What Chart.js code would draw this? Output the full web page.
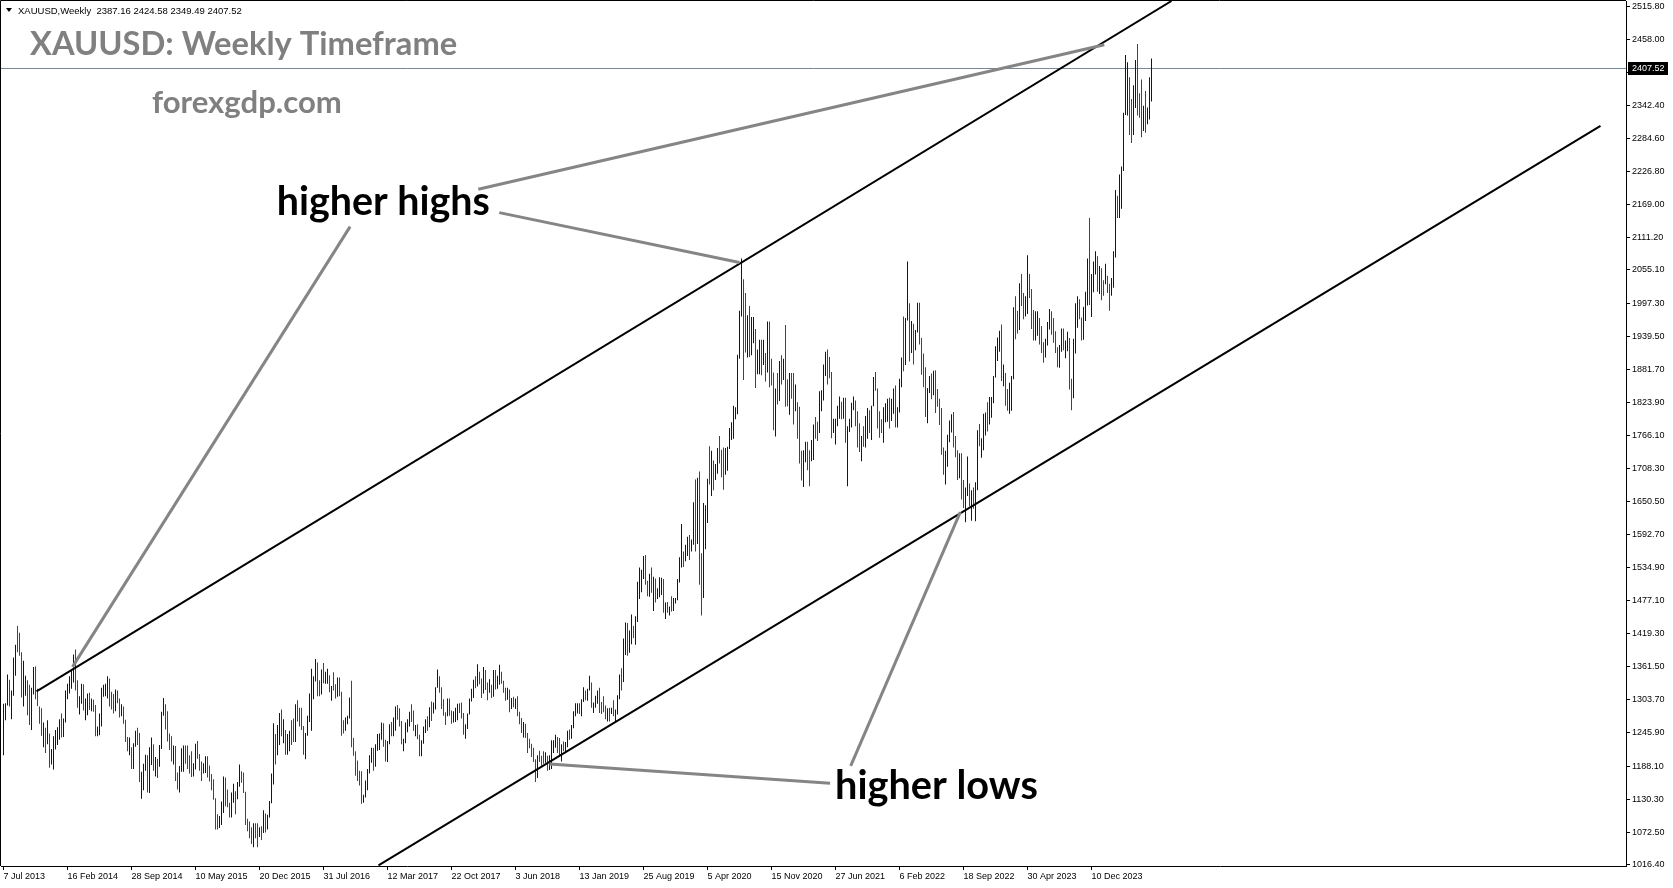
<!DOCTYPE html>
<html>
<head>
<meta charset="utf-8">
<title>XAUUSD Weekly</title>
<script src="https://cdn.jsdelivr.net/npm/chart.js@4.4.1/dist/chart.umd.min.js"></script>
<style>
html, body { margin: 0; padding: 0; background: #fff; }
#wrap { width: 1673px; height: 888px; position: relative; }
</style>
</head>
<body>
<div id="wrap"><canvas id="chart"></canvas></div>
<script>
// weekly bars, first one is the week of 7 Jul 2013, last one the week of 7 Jul 2024
const tickWeeks = [0, 32, 64, 96, 128, 160, 192, 224, 256, 288, 320, 352, 384, 416, 448, 480, 512, 544];
const tickLabels = ['7 Jul 2013', '16 Feb 2014', '28 Sep 2014', '10 May 2015', '20 Dec 2015', '31 Jul 2016',
  '12 Mar 2017', '22 Oct 2017', '3 Jun 2018', '13 Jan 2019', '25 Aug 2019', '5 Apr 2020', '15 Nov 2020',
  '27 Jun 2021', '6 Feb 2022', '18 Sep 2022', '30 Apr 2023', '10 Dec 2023'];
const priceTicks = [1016.4, 1072.5, 1130.3, 1188.1, 1245.9, 1303.7, 1361.5, 1419.3, 1477.1, 1534.9, 1592.7,
  1650.5, 1708.3, 1766.1, 1823.9, 1881.7, 1939.5, 1997.3, 2055.1, 2111.2, 2169.0, 2226.8, 2284.6, 2342.4,
  2400.2, 2458.0, 2515.8];

const highs = [
  // 2013
  1297,1298,1348,1339,1320,1378,1400,1433,1421,1387,1372,1346,1338,1330,1325,1361,1362,1323,1292,1289,1264,1255,1268,1245,1218,1240,
  // 2014
  1251,1256,1270,1280,1271,1320,1332,1345,1355,1383,1392,1338,1310,1332,1331,1306,1315,1316,1306,1304,1295,1257,1280,1325,1330,1332,
  1345,1341,1318,1314,1322,1320,1306,1296,1292,1269,1239,1238,1221,1228,1250,1255,1246,1178,1192,1208,1207,1221,1238,1226,1204,1201,
  // 2015
  1225,1283,1307,1296,1284,1245,1240,1224,1223,1177,1188,1219,1224,1224,1224,1207,1214,1193,1227,1232,1209,1196,1193,1205,1205,1189,
  1174,1165,1132,1104,1101,1126,1170,1168,1147,1124,1142,1157,1144,1160,1191,1179,1177,1143,1096,1091,1081,1088,1088,1088,1081,1083,
  // 2016
  1111,1105,1103,1127,1175,1263,1244,1260,1281,1287,1270,1251,1244,1250,1268,1271,1296,1303,1290,1290,1258,1246,1276,1315,1358,1345,
  1375,1369,1338,1357,1368,1353,1358,1347,1328,1352,1331,1343,1343,1318,1268,1273,1276,1308,1337,1237,1214,1198,1180,1179,1138,1163,
  // 2017
  1183,1207,1220,1220,1226,1244,1245,1264,1263,1234,1232,1261,1265,1273,1292,1295,1289,1267,1236,1264,1270,1283,1296,1285,1260,1261,
  1243,1233,1257,1270,1275,1291,1301,1299,1326,1357,1345,1326,1305,1282,1306,1306,1285,1284,1290,1297,1298,1299,1281,1261,1280,1306,
  // 2018
  1323,1339,1345,1366,1353,1341,1361,1356,1334,1340,1330,1356,1356,1346,1365,1353,1337,1325,1325,1322,1307,1309,1306,1310,1283,1272,
  1265,1262,1246,1236,1227,1220,1200,1207,1215,1206,1214,1212,1206,1207,1233,1233,1243,1239,1237,1226,1231,1230,1250,1252,1260,1284,1298,
  // 2019
  1298,1298,1305,1326,1320,1323,1346,1334,1299,1311,1320,1325,1300,1310,1294,1289,1290,1290,1303,1287,1312,1348,1359,1411,1439,1438,
  1425,1453,1433,1450,1510,1535,1531,1555,1557,1512,1524,1535,1519,1516,1499,1518,1517,1515,1474,1475,1467,1485,1482,1482,1515,1553,
  // 2020
  1611,1563,1575,1589,1592,1584,1649,1689,1692,1703,1560,1648,1644,1690,1747,1739,1722,1716,1744,1765,1741,1745,1744,1746,1779,1789,
  1818,1815,1907,1984,2075,2039,2015,1976,1992,1973,1973,1952,1916,1933,1933,1933,1910,1965,1965,1900,1876,1848,1875,1896,1906,1900,
  // 2021
  1959,1864,1875,1875,1875,1855,1824,1816,1739,1740,1755,1755,1740,1758,1785,1798,1790,1843,1845,1890,1912,1916,1903,1877,1795,1795,
  1818,1834,1825,1832,1832,1782,1795,1823,1834,1827,1808,1787,1765,1782,1800,1814,1810,1818,1868,1877,1848,1808,1794,1815,1822,1830,
  // 2022
  1832,1830,1848,1853,1815,1865,1902,1974,1971,2070,1997,1966,1961,1950,1998,1998,1936,1909,1885,1849,1870,1874,1879,1880,1847,1830,
  1814,1745,1739,1767,1792,1803,1807,1765,1740,1735,1735,1688,1675,1729,1682,1670,1675,1684,1775,1786,1761,1804,1806,1824,1833,1833,
  // 2023
  1870,1922,1937,1949,1960,1890,1875,1847,1858,1870,1990,2009,1984,2032,2048,2015,2009,2081,2048,2022,1985,1983,1983,1971,1957,1929,
  1935,1964,1987,1983,1971,1948,1920,1924,1953,1953,1932,1947,1936,1865,1935,1997,2009,2004,1972,1991,2017,2075,2146,2048,2070,2088,
  // 2024
  2079,2062,2058,2037,2066,2045,2031,2041,2088,2195,2185,2222,2236,2330,2431,2418,2392,2354,2378,2422,2450,2364,2388,2342,2368,2339,
  2392,2424.58
];

const lows = [
  // 2013
  1207,1268,1294,1292,1270,1311,1346,1387,1381,1308,1292,1311,1277,1260,1251,1313,1305,1293,1262,1241,1221,1211,1226,1185,1191,1182,
  // 2014
  1217,1225,1234,1238,1239,1264,1305,1315,1323,1334,1320,1290,1278,1297,1285,1268,1277,1286,1284,1283,1240,1240,1242,1257,1309,1310,
  1306,1292,1287,1280,1284,1298,1273,1275,1262,1230,1214,1207,1183,1183,1222,1225,1160,1131,1146,1180,1142,1141,1190,1180,1170,1167,
  // 2015
  1187,1218,1276,1252,1231,1216,1196,1191,1162,1147,1142,1178,1178,1192,1183,1175,1169,1170,1182,1201,1180,1162,1175,1176,1168,1161,
  1146,1129,1077,1077,1080,1085,1106,1118,1116,1098,1098,1124,1104,1130,1152,1159,1141,1085,1074,1062,1052,1046,1062,1046,1064,1059,
  // 2016
  1071,1072,1077,1098,1123,1156,1191,1207,1225,1240,1228,1208,1208,1214,1225,1230,1230,1266,1257,1251,1208,1200,1241,1265,1250,1305,
  1336,1310,1310,1313,1333,1332,1332,1317,1302,1320,1306,1309,1310,1241,1245,1250,1261,1271,1221,1206,1171,1162,1154,1122,1124,1133,
  // 2017
  1146,1175,1194,1180,1187,1215,1216,1234,1222,1196,1195,1226,1240,1240,1250,1269,1257,1226,1214,1228,1247,1257,1265,1250,1240,1235,
  1205,1205,1227,1246,1250,1256,1267,1280,1287,1325,1316,1288,1276,1260,1275,1276,1262,1264,1265,1268,1281,1271,1243,1236,1253,1278,
  // 2018
  1301,1307,1324,1327,1331,1307,1315,1321,1303,1316,1307,1309,1322,1323,1330,1332,1316,1302,1304,1282,1288,1291,1288,1275,1261,1246,
  1238,1237,1211,1219,1204,1195,1160,1167,1195,1189,1192,1194,1180,1181,1183,1211,1220,1211,1204,1196,1214,1211,1221,1234,1236,1254,1275,
  // 2019
  1280,1279,1275,1300,1303,1302,1320,1290,1281,1290,1297,1281,1279,1282,1270,1266,1266,1279,1275,1266,1278,1305,1320,1335,1382,1381,
  1386,1401,1412,1400,1440,1480,1492,1515,1505,1485,1484,1491,1459,1474,1480,1483,1487,1456,1445,1456,1451,1458,1459,1472,1478,1509,
  // 2020
  1535,1536,1546,1555,1548,1563,1575,1563,1576,1505,1451,1482,1567,1613,1680,1660,1670,1688,1699,1717,1693,1671,1697,1704,1742,1758,
  1760,1794,1803,1900,1974,1863,1911,1902,1903,1906,1927,1849,1873,1873,1871,1889,1860,1876,1850,1853,1775,1764,1820,1826,1855,1863,
  // 2021
  1816,1817,1802,1830,1785,1808,1760,1717,1687,1676,1719,1705,1677,1721,1723,1760,1756,1770,1808,1827,1870,1855,1866,1761,1770,1750,
  1782,1795,1794,1795,1753,1677,1772,1780,1810,1782,1745,1737,1721,1746,1745,1760,1770,1758,1817,1844,1778,1762,1770,1753,1789,1790,
  // 2022
  1778,1791,1804,1780,1780,1806,1850,1878,1889,1967,1895,1910,1890,1915,1946,1925,1872,1850,1798,1787,1840,1829,1836,1805,1816,1784,
  1732,1697,1680,1711,1754,1771,1745,1728,1688,1691,1654,1639,1614,1660,1642,1617,1638,1616,1670,1747,1727,1740,1766,1773,1785,1797,
  // 2023
  1822,1867,1896,1912,1861,1852,1818,1809,1804,1809,1864,1934,1944,1950,1992,1969,1974,1978,2006,1952,1932,1932,1940,1925,1910,1893,
  1902,1923,1951,1942,1928,1910,1885,1884,1912,1915,1901,1913,1846,1810,1831,1909,1954,1969,1932,1933,1966,1993,1994,1973,2016,2047,
  // 2024
  2017,2013,2002,2010,2030,2015,1984,2010,2024,2077,2146,2146,2162,2228,2326,2325,2291,2277,2291,2338,2325,2321,2287,2298,2295,2310,
  2318,2349.49
];

// B = week closed up (blue), R = week closed down (red)
const dirs = [
  'BBBRBBBRRRBBRRBBRRRRBRBRBB',
  'BBBRBBBBBBRRBBRBBRBRRBBBBBBRRRBRRBRRRBRBBRRBBBRBBRBR',
  'BBBRRRRBRRBBBRRRRBBRRRBBRRRRRRBBBRRRBBRBBRRRRRRBRRBR',
  'BRBBBBRBBRBRBBRRBRRRRBBBBBBRRBRBBRBRRBRRRBBBRRRRRRBB',
  'BBBRBBBBRRBBRBBRRRBBBBRRBRRBBBRBRBBBRRRRBRRBBBRRRBBB',
  'BBRBRRBRRBRBRBBRRRBRBRBRRRBRRRRRRBRRRBRBBBBRRBRBBRBBB',
  'BRBBRBBRBBBRRRRBRBRBBBRBBRBBRBBBBBRRBRBRBBBRBRBRBBBB',
  'BRBBRBBRBRRBBBRBRBBRRRBBBBBBBBBRRBRBBRBBRBRBRRRBRBRB',
  'RRBRRBRRRBBRRBBRRBBBBRRRBBBBRBRBBBBRRRBRBBRBBRRRRBBB',
  'RBBRBBBRBBRBRBBRRRRBBRBRRRRRBBBBRRRBRRBBRBRBBRBBBRBB',
  'BBBBRBRRBBBRRBRRBBRRRBBRRRBBBRRRRBBRBBRRBBBRRBBBRBBB',
  'RBRRBRRBBBRBBBBBRRBBRRRBRBBB'
].join('');

const lastBar = { open: 2387.16, high: 2424.58, low: 2349.49, close: 2407.52 };

// channel lines, [week, price] pairs
const upperChannel = [[16.5, 1318.5], [584, 2525.2]];
const lowerChannel = [[187.5, 1014.5], [798.5, 2307]];

// grey pointer lines of the two callouts, [week, price] pairs
const pointers = [
  [[237.4, 2196.2], [550.4, 2448.7]],
  [[247.9, 2155.3], [368, 2068.2]],
  [[173.3, 2130.8], [34.5, 1361.5]],
  [[423.6, 1188.3], [478.4, 1631.8]],
  [[413.3, 1158], [273, 1191.8]]
];
const callouts = [
  { text: 'higher highs', week: 136.6, price: 2151.2, width: 213 },
  { text: 'higher lows', week: 415.75, price: 1131.2, width: 203 }
];

const BLUE = '#0000c8';
const RED = '#e00000';

function fitFont(ctx, text, width, base) {
  ctx.font = 'bold ' + base + 'px Lato';
  const w = ctx.measureText(text).width;
  return 'bold ' + (base * width / w).toFixed(1) + 'px Lato';
}

const overlay = {
  id: 'overlay',
  beforeDatasetsDraw(chart) {
    const { ctx, chartArea: a, scales: { y } } = chart;
    const py = Math.round(y.getPixelForValue(lastBar.close)) + 0.5;
    ctx.save();
    ctx.strokeStyle = '#778899';
    ctx.lineWidth = 1;
    ctx.beginPath();
    ctx.moveTo(a.left, py);
    ctx.lineTo(a.right, py);
    ctx.stroke();
    ctx.restore();
  },
  afterDatasetsDraw(chart) {
    const { ctx, chartArea: a, scales: { x, y } } = chart;
    ctx.save();
    ctx.beginPath();
    ctx.rect(a.left, a.top, a.right - a.left, a.bottom - a.top);
    ctx.clip();

    ctx.strokeStyle = '#000';
    ctx.lineWidth = 2;
    [upperChannel, lowerChannel].forEach(l => {
      ctx.beginPath();
      ctx.moveTo(x.getPixelForValue(l[0][0]), y.getPixelForValue(l[0][1]));
      ctx.lineTo(x.getPixelForValue(l[1][0]), y.getPixelForValue(l[1][1]));
      ctx.stroke();
    });

    ctx.strokeStyle = '#858585';
    ctx.lineWidth = 3;
    pointers.forEach(l => {
      ctx.beginPath();
      ctx.moveTo(x.getPixelForValue(l[0][0]), y.getPixelForValue(l[0][1]));
      ctx.lineTo(x.getPixelForValue(l[1][0]), y.getPixelForValue(l[1][1]));
      ctx.stroke();
    });

    ctx.fillStyle = '#000';
    ctx.textBaseline = 'alphabetic';
    ctx.textAlign = 'left';
    callouts.forEach(c => {
      ctx.font = fitFont(ctx, c.text, c.width, 36);
      ctx.fillText(c.text, x.getPixelForValue(c.week), y.getPixelForValue(c.price));
    });
    ctx.restore();
  },
  afterDraw(chart) {
    const { ctx, chartArea: a, scales: { y } } = chart;
    ctx.save();
    // frame
    ctx.strokeStyle = '#000';
    ctx.lineWidth = 1;
    ctx.beginPath();
    ctx.moveTo(a.right, 0.5);
    ctx.lineTo(0.5, 0.5);
    ctx.lineTo(0.5, a.bottom);
    ctx.stroke();

    // watermark title
    ctx.fillStyle = '#808080';
    ctx.textAlign = 'left';
    ctx.textBaseline = 'alphabetic';
    ctx.font = fitFont(ctx, 'XAUUSD: Weekly Timeframe', 428, 30);
    ctx.fillText('XAUUSD: Weekly Timeframe', 30, 55);
    ctx.font = fitFont(ctx, 'forexgdp.com', 190, 30);
    ctx.fillText('forexgdp.com', 152, 113);

    // header line
    ctx.fillStyle = '#000';
    ctx.textBaseline = 'middle';
    ctx.beginPath();
    ctx.moveTo(6, 8);
    ctx.lineTo(12, 8);
    ctx.lineTo(9, 12);
    ctx.closePath();
    ctx.fill();
    ctx.font = '9.5px "Liberation Sans"';
    ctx.fillText('XAUUSD,Weekly  ' + [lastBar.open, lastBar.high, lastBar.low, lastBar.close].map(v => v.toFixed(2)).join(' '), 18, 11);

    // last price box
    const py = Math.round(y.getPixelForValue(lastBar.close));
    ctx.fillStyle = '#000';
    ctx.fillRect(a.right + 2, py - 6, 40, 13);
    ctx.fillStyle = '#fff';
    ctx.font = '9px "Liberation Sans"';
    ctx.textBaseline = 'middle';
    ctx.fillText(lastBar.close.toFixed(2), a.right + 6, py + 1);
    ctx.restore();
  }
};

const barData = highs.map((h, i) => ({ x: i, y: [lows[i], h] }));
const barColors = highs.map((h, i) => dirs[i] === 'B' ? BLUE : RED);

new Chart(document.getElementById('chart'), {
  type: 'bar',
  data: {
    datasets: [{
      data: barData,
      backgroundColor: barColors,
      borderWidth: 0,
      barThickness: 1,
      grouped: false,
      inflateAmount: 0
    }]
  },
  options: {
    responsive: true,
    maintainAspectRatio: false,
    animation: false,
    events: [],
    layout: { padding: { top: 1, left: 1, right: 0, bottom: 0 } },
    plugins: { legend: { display: false }, tooltip: { enabled: false } },
    scales: {
      x: {
        type: 'linear',
        offset: false,
        min: -1.25,
        max: 811.25,
        afterBuildTicks: s => { s.ticks = tickWeeks.map(v => ({ value: v })); },
        afterFit: s => { s.height = 22; s.paddingLeft = 0; s.paddingRight = 0; },
        grid: { offset: false, drawOnChartArea: false, drawTicks: true, tickLength: 4, tickColor: '#000' },
        border: { color: '#000', width: 1 },
        ticks: {
          autoSkip: false,
          maxRotation: 0,
          align: 'start',
          labelOffset: 0,
          padding: 1,
          color: '#000',
          font: { family: 'Liberation Sans', size: 9 },
          callback: v => tickLabels[tickWeeks.indexOf(v)]
        }
      },
      y: {
        position: 'right',
        min: 1013.4,
        max: 2525.2,
        afterBuildTicks: s => { s.ticks = priceTicks.map(v => ({ value: v })); },
        afterFit: s => { s.width = 47; s.paddingTop = 0; s.paddingBottom = 0; },
        grid: { drawOnChartArea: false, drawTicks: true, tickLength: 4, tickColor: '#000' },
        border: { color: '#000', width: 1 },
        ticks: {
          autoSkip: false,
          padding: 2,
          color: '#000',
          font: { family: 'Liberation Sans', size: 9 },
          callback: v => Number(v).toFixed(2)
        }
      }
    }
  },
  plugins: [overlay]
});
</script>
</body>
</html>
